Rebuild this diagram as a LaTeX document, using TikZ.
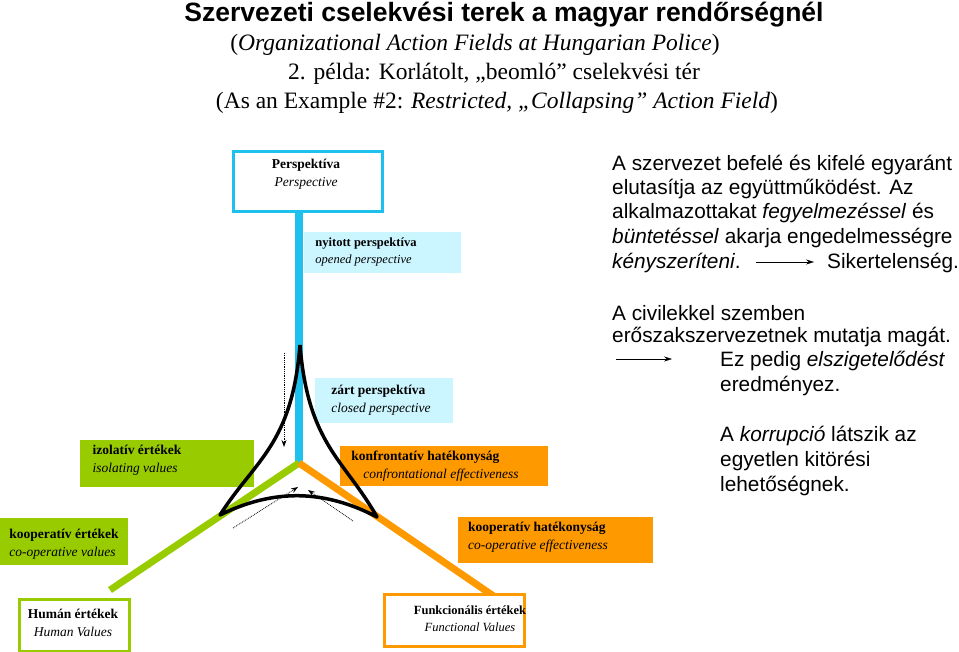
\documentclass[tikz,border=0pt]{standalone}
\usepackage{fontspec}
\setmainfont{Liberation Serif}
\newfontfamily\arial{Liberation Sans}
\usetikzlibrary{arrows.meta}
\definecolor{cy}{HTML}{1EC0EE}
\definecolor{lcy}{HTML}{CCF6FF}
\definecolor{gr}{HTML}{99CC00}
\definecolor{orr}{HTML}{FF9900}
\begin{document}
\begin{tikzpicture}[x=1pt,y=-1pt,
  box/.style={anchor=north west,inner sep=0pt},
  bt/.style={align=left,font=\fontsize{13.5}{18}\selectfont,inner sep=0pt},
  rt/.style={anchor=west,font=\arial\fontsize{20.8}{24}\selectfont,inner sep=0pt},
  tt/.style={font=\fontsize{23.5}{27}\selectfont,inner sep=0pt},
  dotarr/.style={densely dotted,thick,-{Stealth[length=7pt,width=5pt]}}]
\useasboundingbox (0,0) rectangle (959,652);
% lines
\coordinate (c) at (299,463);
\coordinate (ptop) at (299,210);
\coordinate (gend) at (110,590);
\coordinate (oend) at (495,597);
\draw[cy,line width=8pt] (ptop) -- (c);
\draw[gr,line width=7pt] (c) -- (gend);
\draw[orr,line width=7pt] (c) -- (oend);
% boxes
\node[box,draw=cy,line width=3pt,minimum width=149pt,minimum height=60pt] (pb) at (232,150) {};
\node[bt,align=center] (pt) at (306,174) {\textbf{Perspektíva}\\\textit{Perspective}};
\node[box,fill=lcy,minimum width=157pt,minimum height=41pt] (nb) at (304,232) {};
\node[bt,font=\fontsize{12.5}{17}\selectfont] (nt) at (366,252) {\textbf{nyitott perspektíva}\\\textit{opened perspective}};
\node[box,fill=lcy,minimum width=138pt,minimum height=45pt] (zb) at (315,378) {};
\node[bt] (zt) at (381,400) {\textbf{zárt perspektíva}\\\textit{closed perspective}};
\node[box,fill=gr,minimum width=174pt,minimum height=47pt] (ib) at (80,440) {};
\node[bt] (it) at (137,460) {\textbf{izolatív értékek}\\\textit{isolating values}};
\node[box,fill=orr,minimum width=208pt,minimum height=40pt] (kb) at (340,446) {};
\node[bt] (kt) at (435,466) {\textbf{konfrontatív hatékonyság}\\\hspace*{12pt}\textit{confrontational effectiveness}};
\node[box,fill=gr,minimum width=128pt,minimum height=47pt] (kvb) at (0,518) {};
\node[bt] (kvt) at (64,544) {\textbf{kooperatív értékek}\\\textit{co-operative values}};
\node[box,fill=orr,minimum width=195pt,minimum height=46pt] (khb) at (458,517) {};
\node[bt] (kht) at (538,537) {\textbf{kooperatív hatékonyság}\\\textit{co-operative effectiveness}};
\node[box,draw=gr,line width=2.5pt,fill=white,minimum width=110pt,minimum height=52pt] (hb) at (18,598) {};
\node[bt,align=center] (ht) at (73,623) {\textbf{Humán értékek}\\\textit{Human Values}};
\node[box,draw=orr,line width=2.5pt,fill=white,minimum width=140pt,minimum height=52pt] (fb) at (383,593) {};
\node[bt,align=center,font=\fontsize{12.5}{17}\selectfont] (ft) at (470,619) {\textbf{Funkcionális értékek}\\\textit{Functional Values}};
% curved triangle
\coordinate (tA) at (300,345);
\coordinate (tB) at (220,515);
\coordinate (tC) at (377,517);
\draw[line width=3.5pt,line join=round] (tA) .. controls (292,445) and (255,460) .. (tB)
  .. controls (275,488) and (325,490) .. (tC)
  .. controls (345,460) and (308,445) .. (tA);
% dotted arrows
\coordinate (d1s) at (284,353); \coordinate (d1e) at (284,447);
\coordinate (d2s) at (233,528); \coordinate (d2e) at (298,487);
\coordinate (d3s) at (353,521); \coordinate (d3e) at (308,490);
\draw[dotarr] (d1s) -- (d1e);
\draw[dotarr] (d2s) -- (d2e);
\draw[dotarr] (d3s) -- (d3e);
% title
\node[font=\arial\bfseries\fontsize{26.5}{30}\selectfont,inner sep=0pt] (t1) at (504,15) {Szervezeti cselekvési terek a magyar rendőrségnél};
\node[tt] (t2) at (475,45) {(\textit{Organizational Action Fields at Hungarian Police})};
\node[tt] (t3) at (494,74) {2. példa: Korlátolt, „beomló” cselekvési tér};
\node[tt] (t4) at (497,103) {(As an Example \#2: \textit{Restricted, „Collapsing” Action Field})};
% right texts
\node[rt] (r1) at (612,165) {A szervezet befelé és kifelé egyaránt};
\node[rt] (r2) at (612,189) {elutasítja az együttműködést. Az};
\node[rt] (r3) at (612,213) {alkalmazottakat \textit{fegyelmezéssel} és};
\node[rt] (r4) at (612,238) {\textit{büntetéssel} akarja engedelmességre};
\node[rt] (r5) at (612,263) {\textit{kényszeríteni}.};
\node[rt] (r6) at (827,263) {Sikertelenség.};
\node[rt] (r7) at (612,313) {A civilekkel szemben};
\node[rt] (r8) at (612,337) {erőszakszervezetnek mutatja magát.};
\node[rt] (r9) at (720,361) {Ez pedig \textit{elszigetelődést}};
\node[rt] (r10) at (720,386) {eredményez.};
\node[rt] (r11) at (720,436) {A \textit{korrupció} látszik az};
\node[rt] (r12) at (720,461) {egyetlen kitörési};
\node[rt] (r13) at (720,486) {lehetőségnek.};
\coordinate (a1s) at (756,262); \coordinate (a1e) at (814,262);
\coordinate (a2s) at (616,359); \coordinate (a2e) at (672,359);
\draw[-{Stealth[length=8pt,width=5pt]}] (a1s) -- (a1e);
\draw[-{Stealth[length=8pt,width=5pt]}] (a2s) -- (a2e);
\end{tikzpicture}
\end{document}
